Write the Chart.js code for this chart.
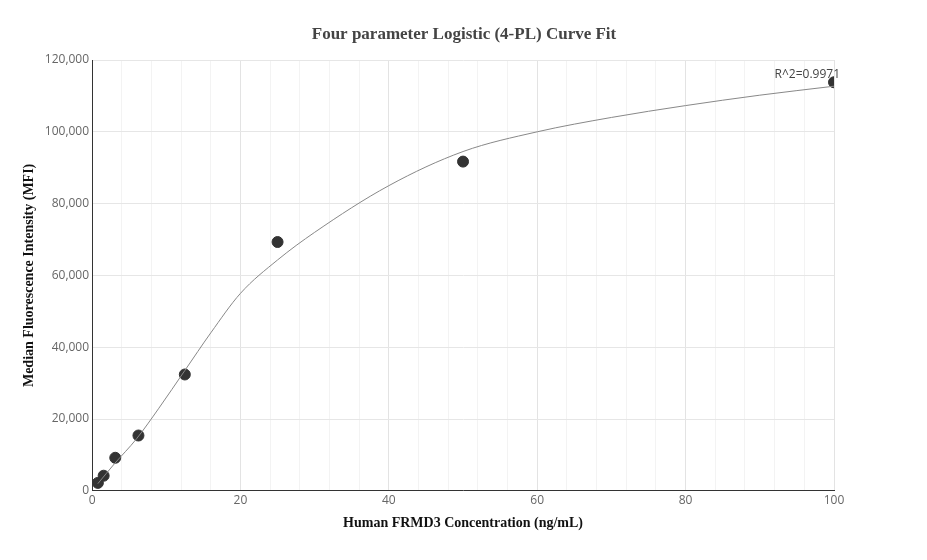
<!DOCTYPE html>
<html>
<head>
<title>4-PL Curve Fit</title>
<script src="https://cdn.jsdelivr.net/npm/chart.js"></script>
<style>body{margin:0;background:#fff}#wrap{width:927px;height:560px}</style>
</head>
<body>
<div id="wrap"><canvas id="myChart"></canvas></div>
<script>
const conc = [0.78, 1.56, 3.125, 6.25, 12.5, 25, 50, 100];
const mfi = [2200, 4200, 9200, 15400, 32400, 69300, 91700, 113800];
const fitX = [0.78, 3, 6, 9, 12.5, 16, 20, 25, 30, 40, 50, 60, 70, 80, 90, 100];
const fitY = [2000, 7500, 14500, 23000, 33500, 44000, 55000, 64300, 72000, 85000, 94500, 100000, 104000, 107300, 110200, 112700];
const r2Label = 'R^2=0.9971';
const titleText = 'Four parameter Logistic (4-PL) Curve Fit';

const extras = {
    id: 'extras',
    afterDraw(chart) {
        const ctx = chart.ctx;
        const x = chart.scales.x.getPixelForValue(100);
        const y = chart.scales.y.getPixelForValue(mfi[mfi.length - 1]);
        ctx.save();
        ctx.font = '12px "Open Sans", sans-serif';
        ctx.fillStyle = '#444';
        ctx.textAlign = 'right';
        ctx.fillText(r2Label, x + 6, y - 4);
        ctx.font = 'bold 17px "Liberation Serif", serif';
        ctx.textAlign = 'center';
        ctx.fillText(titleText, 464, 39);
        ctx.restore();
    }
};

const ctx = document.getElementById('myChart').getContext('2d');
new Chart(ctx, {
    type: 'scatter',
    data: {
        datasets: [{
            data: fitX.map((x, i) => ({x: x, y: fitY[i]})),
            showLine: true,
            borderColor: '#888',
            borderWidth: 1,
            pointRadius: 0,
            cubicInterpolationMode: 'monotone'
        }, {
            data: conc.map((x, i) => ({x: x, y: mfi[i]})),
            backgroundColor: '#333',
            borderColor: '#333',
            pointRadius: 5.5
        }]
    },
    options: {
        responsive: true,
        maintainAspectRatio: false,
        animation: false,
        layout: {padding: {left: 17, right: 93, top: 60, bottom: 24}},
        plugins: {
            legend: {display: false},
            tooltip: {enabled: false}
        },
        scales: {
            x: {
                type: 'linear', min: 0, max: 100,
                ticks: {stepSize: 4, autoSkip: false, maxRotation: 0, color: '#666',
                    font: {family: '"Open Sans", sans-serif', size: 12},
                    callback: v => v % 20 === 0 ? v : ''},
                grid: {color: c => c.tick && c.tick.value % 20 === 0 ? '#e3e3e3' : '#f3f3f3', drawTicks: false},
                border: {color: '#333'},
                title: {display: true, text: 'Human FRMD3 Concentration (ng/mL)', color: '#111',
                    font: {family: '"Liberation Serif", serif', size: 14, weight: 'bold'}}
            },
            y: {
                min: 0, max: 120000,
                ticks: {stepSize: 20000, color: '#666',
                    font: {family: '"Open Sans", sans-serif', size: 12},
                    callback: v => v.toLocaleString('en-US')},
                grid: {color: '#e6e6e6', drawTicks: false},
                border: {color: '#333'},
                title: {display: true, text: 'Median Fluorescence Intensity (MFI)', color: '#111',
                    font: {family: '"Liberation Serif", serif', size: 14, weight: 'bold'}}
            }
        }
    },
    plugins: [extras]
});
</script>
</body>
</html>
